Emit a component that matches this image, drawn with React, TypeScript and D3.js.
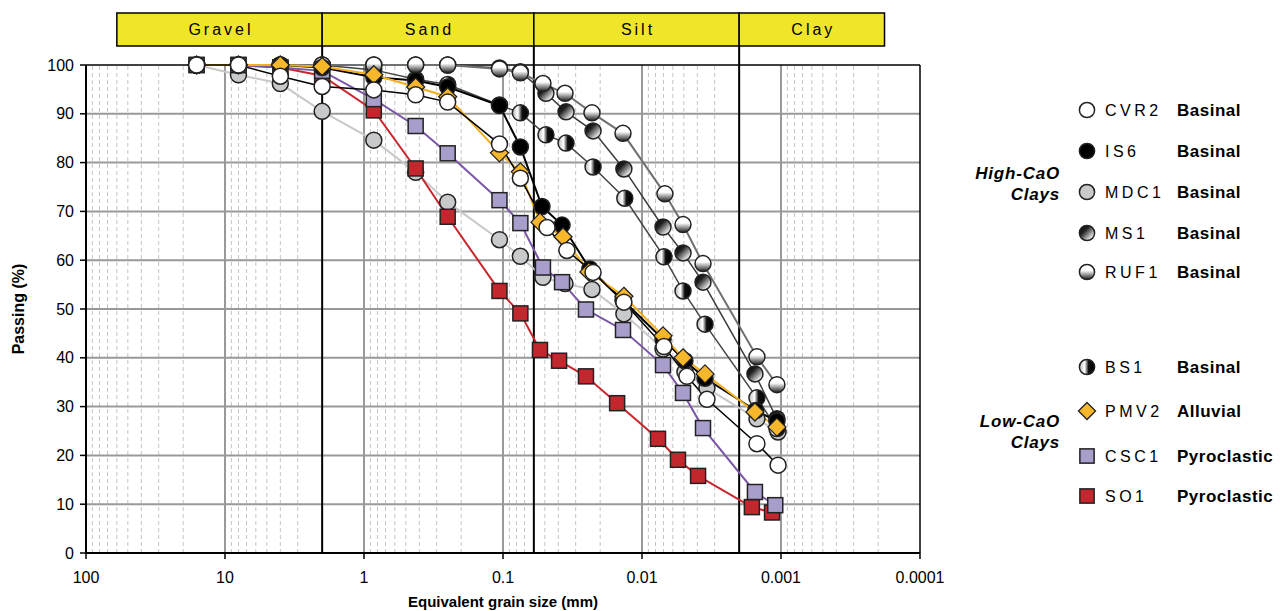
import React from "react";
import * as d3 from "d3";

// sieve + hydrometer data: [grain size mm, passing %]
const CVR2 = [[16, 100], [8, 100], [4, 97.7], [2, 95.6], [0.85, 94.9], [0.425, 93.9], [0.25, 92.4], [0.106, 83.8], [0.075, 76.8],
  [0.0482, 66.7], [0.0347, 62.0], [0.0225, 57.5], [0.0135, 51.4], [0.00695, 42.3], [0.00475, 36.2], [0.00341, 31.5], [0.00149, 22.4], [0.00105, 18.0]];
const IS6 = [[16, 100], [8, 100], [4, 100], [2, 99.5], [0.85, 97.5], [0.425, 96.8], [0.25, 95.5], [0.106, 91.7], [0.075, 83.2],
  [0.0524, 71.0], [0.0376, 67.2], [0.0237, 58.2], [0.0137, 51.8], [0.00706, 43.8], [0.00491, 39.4], [0.00352, 35.8], [0.00152, 29.2], [0.00107, 27.0]];
const MDC1 = [[16, 100], [8, 98.0], [4, 96.2], [2, 90.5], [0.85, 84.6], [0.425, 78.0], [0.25, 71.9], [0.106, 64.2], [0.075, 60.8],
  [0.0516, 56.5], [0.0358, 55.2], [0.0229, 54.0], [0.0135, 49.0], [0.00706, 41.8], [0.00491, 37.1], [0.00341, 33.8], [0.00149, 27.5], [0.00105, 24.8]];
const MS1 = [[16, 100], [8, 100], [4, 100], [2, 100], [0.85, 100], [0.425, 100], [0.25, 100], [0.106, 99.4], [0.075, 98.6],
  [0.0491, 94.2], [0.0352, 90.4], [0.0225, 86.5], [0.0135, 78.7], [0.00706, 66.8], [0.00507, 61.5], [0.00364, 55.5], [0.00154, 36.7], [0.00107, 27.5]];
const RUF1 = [[16, 100], [8, 100], [4, 100], [2, 100], [0.85, 100], [0.425, 100], [0.25, 100], [0.106, 99.2], [0.075, 98.4],
  [0.0516, 96.2], [0.0358, 94.2], [0.0229, 90.2], [0.0137, 86.0], [0.00684, 73.6], [0.00507, 67.3], [0.00364, 59.3], [0.00149, 40.2], [0.00107, 34.5]];
const BS1 = [[16, 100], [8, 100], [4, 100], [2, 100], [0.85, 99.0], [0.425, 97.1], [0.25, 96.0], [0.106, 91.8], [0.075, 90.2],
  [0.0491, 85.7], [0.0352, 84.0], [0.0225, 79.1], [0.0133, 72.7], [0.00695, 60.7], [0.00507, 53.7], [0.00352, 46.9], [0.00149, 31.8], [0.00107, 25.5]];
const PMV2 = [[16, 100], [8, 100], [4, 100], [2, 99.7], [0.85, 98.0], [0.425, 95.5], [0.25, 93.5], [0.106, 82.0], [0.075, 78.1],
  [0.0542, 67.8], [0.037, 64.8], [0.0241, 57.6], [0.0135, 52.6], [0.00706, 44.5], [0.00507, 40.0], [0.00352, 36.7], [0.00154, 28.9], [0.00107, 25.8]];
const CSC1 = [[16, 100], [8, 100], [4, 99.5], [2, 98.8], [0.85, 93.0], [0.425, 87.5], [0.25, 81.9], [0.106, 72.3], [0.075, 67.6],
  [0.0516, 58.5], [0.0376, 55.5], [0.0253, 49.9], [0.0137, 45.7], [0.00706, 38.5], [0.00507, 32.8], [0.00364, 25.6], [0.00154, 12.5], [0.0011, 9.8]];
const SO1 = [[16, 100], [8, 100], [4, 99.5], [2, 97.8], [0.85, 90.7], [0.425, 78.8], [0.25, 68.9], [0.106, 53.7], [0.075, 49.1],
  [0.0542, 41.6], [0.0395, 39.4], [0.0253, 36.2], [0.0151, 30.7], [0.00767, 23.4], [0.00551, 19.1], [0.00395, 15.8], [0.00162, 9.4], [0.00116, 8.3]];

const xTicks = [100, 10, 1, 0.1, 0.01, 0.001, 0.0001];
const xTickLabels = ["100", "10", "1", "0.1", "0.01", "0.001", "0.0001"];
const yTicks = [0, 10, 20, 30, 40, 50, 60, 70, 80, 90, 100];
const classNames = ["Gravel", "Sand", "Silt", "Clay"];
const classBounds = [60, 2, 0.06, 0.002, 0.00018];

const series = [
  { name: "MDC1", type: "Basinal", data: MDC1, shape: "circle", fill: "#c8c9cb", line: "#c8c8c8", lw: 2 },
  { name: "SO1", type: "Pyroclastic", data: SO1, shape: "square", fill: "#c1272d", line: "#c8262d", lw: 2 },
  { name: "CSC1", type: "Pyroclastic", data: CSC1, shape: "square", fill: "#a99dcb", line: "#7a56a6", lw: 2 },
  { name: "BS1", type: "Basinal", data: BS1, shape: "circle", fill: "url(#gBS1)", line: "#444", lw: 1.5 },
  { name: "MS1", type: "Basinal", data: MS1, shape: "circle", fill: "url(#gMS1)", line: "#3a3a3a", lw: 1.5 },
  { name: "RUF1", type: "Basinal", data: RUF1, shape: "circle", fill: "url(#gRUF1)", line: "#707070", lw: 2 },
  { name: "IS6", type: "Basinal", data: IS6, shape: "circle", fill: "#000", line: "#000", lw: 2 },
  { name: "PMV2", type: "Alluvial", data: PMV2, shape: "diamond", fill: "#f7b72b", line: "#f2ae1c", lw: 2 },
  { name: "CVR2", type: "Basinal", data: CVR2, shape: "circle", fill: "#fff", line: "#000", lw: 1.5 },
];

const highGroup = ["CVR2", "IS6", "MDC1", "MS1", "RUF1"];
const lowGroup = ["BS1", "PMV2", "CSC1", "SO1"];

const FONT = "'Liberation Sans', Arial, Helvetica, sans-serif";

function Marker({ shape, fill, x, y, s = 1 }) {
  if (shape === "square") {
    const h = 7.5 * s;
    return <rect x={x - h} y={y - h} width={2 * h} height={2 * h} fill={fill} stroke="#222" strokeWidth={1.5} />;
  }
  if (shape === "diamond") {
    const h = 9 * s;
    return <path d={`M${x},${y - h}L${x + h},${y}L${x},${y + h}L${x - h},${y}Z`} fill={fill} stroke="#222" strokeWidth={1.3} />;
  }
  return <circle cx={x} cy={y} r={8 * s} fill={fill} stroke="#222" strokeWidth={1.5} />;
}

export default function App() {
  const x = d3.scaleLog().domain([100, 0.0001]).range([86, 920]);
  const y = d3.scaleLinear().domain([0, 100]).range([553, 65]);
  const line = d3.line().x((d) => x(d[0])).y((d) => y(d[1]));

  const minor = [];
  for (let e = -4; e < 2; e++) {
    for (let k = 2; k <= 9; k++) minor.push(k * Math.pow(10, e));
  }

  const byName = (n) => series.find((s) => s.name === n);
  const legendRow = (n, ly) => {
    const s = byName(n);
    return (
      <g key={n}>
        <Marker shape={s.shape} fill={s.fill} x={1087} y={ly} s={0.95} />
        <text x={1105} y={ly + 6} fontSize={16} letterSpacing={3.5}>{s.name}</text>
        <text x={1177} y={ly + 6} fontSize={17} fontWeight="bold" letterSpacing={0.5}>{s.type}</text>
      </g>
    );
  };
  const highY = [110, 151, 192, 233, 272];
  const lowY = [367, 411, 456, 496];

  return (
    <svg width={1280} height={611} style={{ position: "absolute", left: 0, top: 0, background: "#fff" }} fontFamily={FONT}>
      <defs>
        <linearGradient id="gRUF1" x1="0" y1="0" x2="0" y2="1">
          <stop offset="0" stopColor="#fff" />
          <stop offset="0.4" stopColor="#fff" />
          <stop offset="1" stopColor="#1a1a1a" />
        </linearGradient>
        <linearGradient id="gMS1" x1="0" y1="0" x2="1" y2="1">
          <stop offset="0" stopColor="#000" />
          <stop offset="0.35" stopColor="#222" />
          <stop offset="0.85" stopColor="#fff" />
        </linearGradient>
        <linearGradient id="gBS1" x1="0" y1="0" x2="1" y2="0">
          <stop offset="0" stopColor="#bbb" />
          <stop offset="0.35" stopColor="#fff" />
          <stop offset="0.6" stopColor="#111" />
          <stop offset="1" stopColor="#000" />
        </linearGradient>
      </defs>

      {/* grid */}
      {minor.filter((v) => v < 100).map((v) => (
        <line key={"m" + v} x1={x(v)} x2={x(v)} y1={y(0)} y2={y(100)} stroke="#c4c4c4" strokeWidth={1} strokeDasharray="4,3" />
      ))}
      {xTicks.slice(1, -1).map((v) => (
        <line key={"M" + v} x1={x(v)} x2={x(v)} y1={y(0)} y2={y(100)} stroke="#999" strokeWidth={2} />
      ))}
      {yTicks.slice(1, -1).map((v) => (
        <line key={"h" + v} x1={x(100)} x2={x(0.0001)} y1={y(v)} y2={y(v)} stroke="#999" strokeWidth={2} />
      ))}

      {/* frame */}
      <line x1={x(100)} x2={x(0.0001)} y1={y(100)} y2={y(100)} stroke="#000" strokeWidth={1.5} />
      <line x1={x(0.0001)} x2={x(0.0001)} y1={y(100)} y2={y(0)} stroke="#000" strokeWidth={1.5} />
      <line x1={x(100)} x2={x(0.0001)} y1={y(0)} y2={y(0)} stroke="#000" strokeWidth={2} />
      <line x1={x(100)} x2={x(100)} y1={y(100)} y2={y(0)} stroke="#000" strokeWidth={2} />

      {/* header classes */}
      {classNames.map((c, i) => {
        const x0 = x(classBounds[i]);
        const x1 = x(classBounds[i + 1]);
        return (
          <g key={c}>
            <rect x={x0} y={13} width={x1 - x0} height={33} fill="#f0e629" stroke="#000" strokeWidth={1.5} />
            <text x={(x0 + x1) / 2 + 1.5} y={35} textAnchor="middle" fontSize={16} letterSpacing={3}>{c}</text>
          </g>
        );
      })}
      {classBounds.slice(1, -1).map((b) => (
        <line key={"b" + b} x1={x(b)} x2={x(b)} y1={46} y2={y(0)} stroke="#000" strokeWidth={2} />
      ))}

      {/* axes labels */}
      {yTicks.map((v) => (
        <g key={"yt" + v}>
          <line x1={80} x2={86} y1={y(v)} y2={y(v)} stroke="#000" strokeWidth={1.5} />
          <text x={74} y={y(v) + 5.5} textAnchor="end" fontSize={16}>{v}</text>
        </g>
      ))}
      {xTicks.map((v, i) => (
        <g key={"xt" + v}>
          <line x1={x(v)} x2={x(v)} y1={553} y2={559} stroke="#000" strokeWidth={1.5} />
          <text x={x(v)} y={583} textAnchor="middle" fontSize={16}>{xTickLabels[i]}</text>
        </g>
      ))}
      <text x={503} y={607} textAnchor="middle" fontSize={15} fontWeight="bold">Equivalent grain size (mm)</text>
      <text transform="translate(24,309) rotate(-90)" textAnchor="middle" fontSize={16} fontWeight="bold">Passing (%)</text>

      {/* series */}
      {series.map((s) => (
        <path key={"l" + s.name} d={line(s.data)} fill="none" stroke={s.line} strokeWidth={s.lw} />
      ))}
      {series.map((s) => (
        <g key={"p" + s.name}>
          {s.data.map((d, i) => (
            <Marker key={i} shape={s.shape} fill={s.fill} x={x(d[0])} y={y(d[1])} />
          ))}
        </g>
      ))}

      {/* legend */}
      {highGroup.map((n, i) => legendRow(n, highY[i]))}
      {lowGroup.map((n, i) => legendRow(n, lowY[i]))}
      <text x={1060} y={179} textAnchor="end" fontSize={17} fontWeight="bold" fontStyle="italic" letterSpacing={0.8}>High-CaO</text>
      <text x={1060} y={200} textAnchor="end" fontSize={17} fontWeight="bold" fontStyle="italic" letterSpacing={0.8}>Clays</text>
      <text x={1060} y={427} textAnchor="end" fontSize={17} fontWeight="bold" fontStyle="italic" letterSpacing={0.8}>Low-CaO</text>
      <text x={1060} y={448} textAnchor="end" fontSize={17} fontWeight="bold" fontStyle="italic" letterSpacing={0.8}>Clays</text>
    </svg>
  );
}
